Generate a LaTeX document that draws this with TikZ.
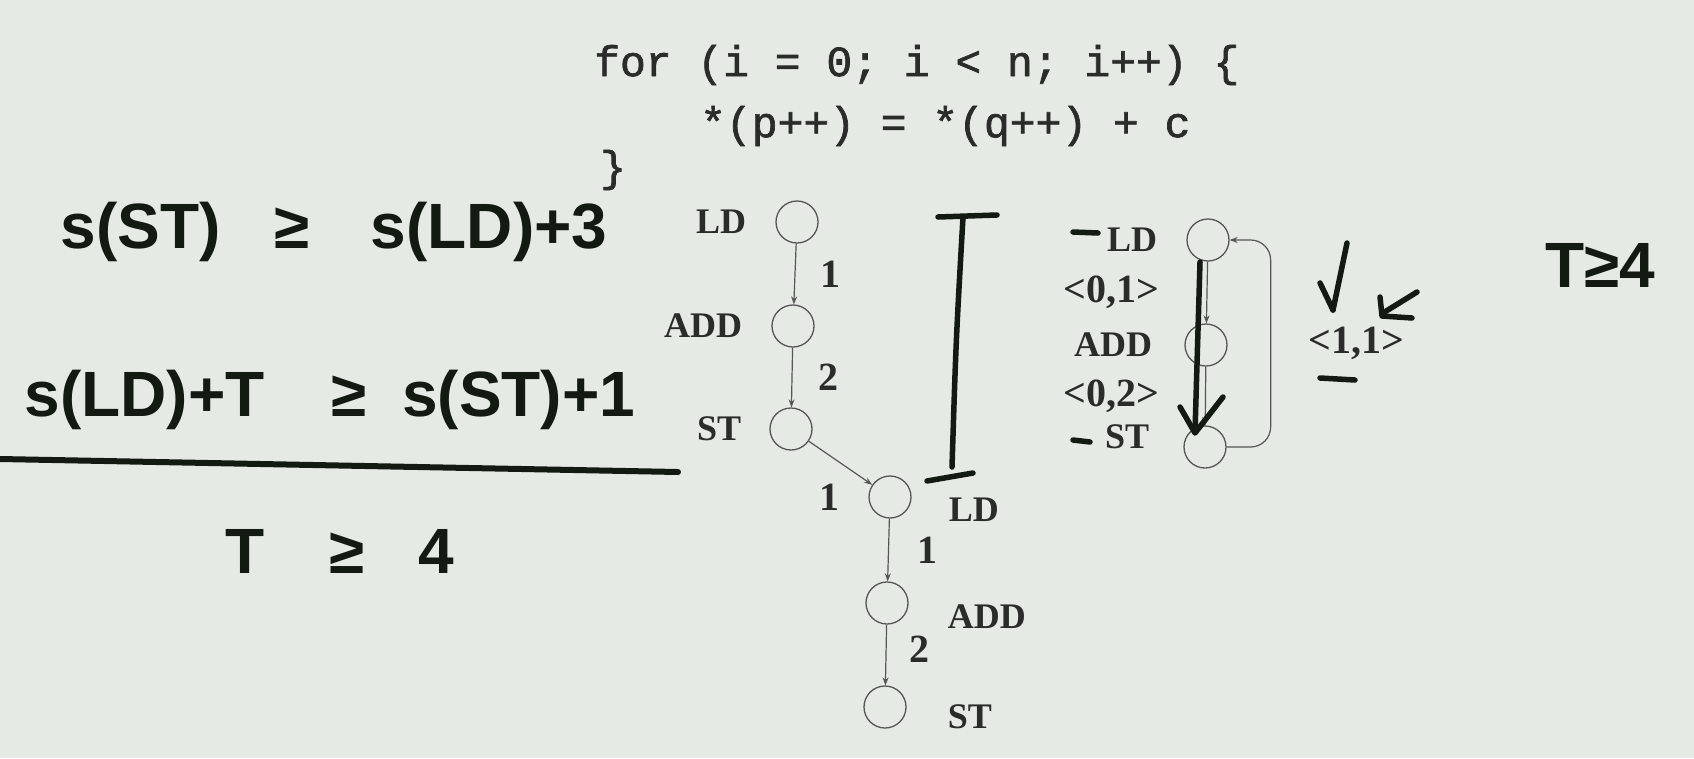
\documentclass[tikz,border=0pt]{standalone}
\usepackage{fontspec}
\setmainfont{Liberation Serif}
\newfontfamily\codefont[FakeBold=1.6]{Liberation Mono}
\newfontfamily\handfont{Liberation Sans}
\usetikzlibrary{arrows.meta,positioning}
\definecolor{slide-bg}{HTML}{E5EAE4}
\definecolor{slide-ink}{HTML}{2A2C2A}
\definecolor{marker}{HTML}{121A12}

\begin{document}
\begin{tikzpicture}[
  x=1pt, y=-1pt,
  op/.style={
    circle, draw=slide-ink!80, line width=1.3pt,
    minimum size=42pt, inner sep=0pt
  },
  opname/.style={
    font=\fontsize{36}{40}\selectfont\bfseries,
    text=slide-ink, inner sep=0pt
  },
  lat/.style={
    font=\fontsize{40}{44}\selectfont\bfseries,
    text=slide-ink, inner sep=0pt
  },
  dep/.style={
    -{Stealth[length=8pt,width=6pt]}, line width=1.2pt, draw=slide-ink!80
  },
  code/.style={
    font=\codefont\fontsize{43}{48}\selectfont,
    text=slide-ink, anchor=west, inner sep=0pt
  },
  hand/.style={
    font=\handfont\bfseries\fontsize{64}{72}\selectfont,
    text=marker, inner sep=0pt
  },
  ink/.style={
    draw=marker, line width=5.5pt, line cap=round, line join=round
  }
]

\fill[slide-bg] (0,0) rectangle (1694,758);
\useasboundingbox (0,0) rectangle (1694,758);

%% Loop source
\node[code] (for) at (594,65) {for (i = 0; i < n; i++) \{};
\node[code] (body) at (700,126) {*(p++) = *(q++) + c};
\node[code] (close) at (600,170) {\}};

%% Two iterations
\node[op] (ld1) at (797,222) {};
\node[op] (add1) at (793,326) {};
\node[op] (st1) at (791,429) {};
\node[op] (ld2) at (890,497) {};
\node[op] (add2) at (887,603) {};
\node[op] (st2) at (885,707) {};

\node[opname, left=29pt of ld1] (ld1-name) {LD};
\node[opname, left=29pt of add1] (add1-name) {ADD};
\node[opname, left=28pt of st1] (st1-name) {ST};
\node[opname, right=37pt of ld2.east, yshift=-13pt] (ld2-name) {LD};
\node[opname, right=39pt of add2.east, yshift=-14pt] (add2-name) {ADD};
\node[opname, right=41pt of st2.east, yshift=-10pt] (st2-name) {ST};

\draw[dep] (ld1) -- node[lat, right=25pt] {1} (add1);
\draw[dep] (add1) -- node[lat, right=26pt] {2} (st1);
\draw[dep] (st1) -- (ld2);
\node[lat, left=29pt of ld2] (carry) {1};
\draw[dep] (ld2) -- node[lat, right=28pt] {1} (add2);
\draw[dep] (add2) -- node[lat, right=23pt, yshift=6pt] {2} (st2);

%% Dependence graph
\node[op] (ld3) at (1208,240) {};
\node[op] (add3) at (1206,345) {};
\node[op] (st3) at (1205,447) {};

\node[opname, left=29pt of ld3] (ld3-name) {LD};
\node[opname, left=32pt of add3] (add3-name) {ADD};
\node[opname, left=34pt of st3, yshift=10pt] (st3-name) {ST};

\draw[dep] (ld3) -- node[lat, left=47pt] {<0,1>} (add3);
\draw[dep] (add3) -- node[lat, left=46pt] {<0,2>} (st3);
\draw[dep, rounded corners=20pt] (st3.east) -- ++(44,0)
  |- node[lat, pos=0.25, right=37pt] {<1,1>} (ld3.east);

%% Handwriting
\node[hand] (eq1) at (334,232) {s(ST)\hspace{0.85em}≥\hspace{0.95em}s(LD)+3};
\node[hand] (eq2) at (330,400) {s(LD)+T\hspace{1.05em}≥\hspace{0.55em}s(ST)+1};
\node[hand] (eq3) at (340,551) {T\hspace{1em}≥\hspace{0.85em}4};
\node[hand] (bound) at (1600,265) {T≥4};
\draw[ink, line width=6pt] (0,459) -- (678,472);

\draw[ink] (938,217) -- (997,215);
\draw[ink] (963,217) .. controls (956,340) .. (952,467);
\draw[ink] (927,481) -- (973,473);

\draw[ink] (1073,232) -- (1098,233);
\draw[ink] (1073,440) -- (1090,442);
\draw[ink] (1320,378) -- (1355,380);
\draw[ink] (1200,262) -- (1195,432);
\draw[ink] (1180,407) -- (1195,433) -- (1223,397);
\draw[ink] (1347,243) -- (1333,310);
\draw[ink] (1320,283) -- (1333,310);
\draw[ink] (1417,292) -- (1383,313);
\draw[ink] (1380,297) -- (1382,316) -- (1412,318);

\end{tikzpicture}
\end{document}
